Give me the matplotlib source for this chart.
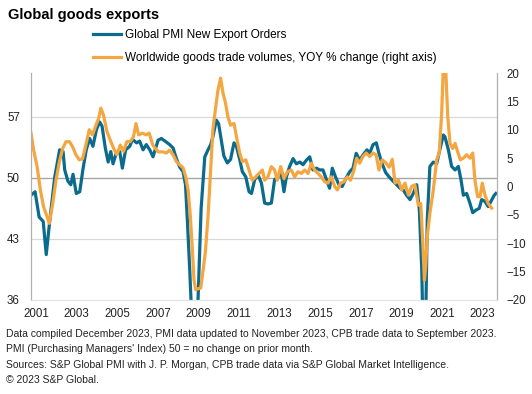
import matplotlib.pyplot as plt

# Global PMI New Export Orders (left axis), decimal years
pmi_t = [2001.0, 2001.2, 2001.4, 2001.6, 2001.75, 2001.92, 2002.17, 2002.41, 2002.58, 2002.66,
         2002.82, 2002.96, 2003.07, 2003.23, 2003.4, 2003.56, 2003.72, 2003.89, 2004.05, 2004.22,
         2004.38, 2004.5, 2004.66, 2004.8, 2004.93, 2005.04, 2005.2, 2005.37, 2005.5, 2005.66,
         2005.86, 2006.0, 2006.2, 2006.35, 2006.52, 2006.68, 2006.85, 2007.01, 2007.26, 2007.42,
         2007.66, 2007.83, 2008.0, 2008.16, 2008.33, 2008.49, 2008.61, 2008.7, 2008.82, 2008.9,
         2009.06, 2009.22, 2009.3, 2009.38, 2009.56, 2009.72, 2009.85, 2009.96, 2010.13, 2010.24,
         2010.38, 2010.5, 2010.67, 2010.83, 2011.0, 2011.12, 2011.28, 2011.41, 2011.58, 2011.74,
         2011.86, 2012.02, 2012.19, 2012.35, 2012.51, 2012.67, 2012.84, 2013.0, 2013.17, 2013.33,
         2013.46, 2013.58, 2013.74, 2013.91, 2014.07, 2014.24, 2014.4, 2014.56, 2014.73, 2014.89,
         2015.06, 2015.22, 2015.38, 2015.55, 2015.71, 2015.84, 2016.0, 2016.17, 2016.33, 2016.53,
         2016.7, 2016.86, 2017.02, 2017.19, 2017.35, 2017.55, 2017.68, 2017.85, 2018.01, 2018.14,
         2018.3, 2018.47, 2018.64, 2018.8, 2019.01, 2019.18, 2019.34, 2019.5, 2019.67, 2019.83,
         2020.0, 2020.13, 2020.25, 2020.33, 2020.44, 2020.52, 2020.65, 2020.82, 2020.98, 2021.14,
         2021.31, 2021.39, 2021.56, 2021.72, 2021.89, 2022.05, 2022.18, 2022.3, 2022.46, 2022.62,
         2022.76, 2022.92, 2023.08, 2023.2, 2023.36, 2023.52, 2023.66, 2023.82, 2023.9]
pmi_v = [48.0, 48.4, 45.5, 45.0, 41.2, 45.0, 50.1, 53.2, 53.0, 50.9,
         49.6, 49.2, 50.4, 48.2, 48.4, 51.0, 53.2, 54.5, 53.6, 55.5,
         56.4, 55.9, 53.4, 51.8, 53.0, 51.6, 52.8, 53.0, 51.1, 53.2,
         53.6, 54.4, 54.0, 54.2, 53.2, 53.8, 53.2, 52.4, 54.3, 54.5,
         54.1, 53.8, 53.4, 52.2, 51.2, 50.7, 49.2, 45.2, 39.4, 35.0,
         34.5, 35.5, 41.0, 46.5, 52.4, 53.2, 53.8, 54.7, 56.6, 56.2,
         54.2, 52.5, 51.7, 52.1, 54.0, 53.6, 52.1, 50.7, 50.1, 48.4,
         48.2, 49.8, 50.3, 49.4, 47.1, 47.0, 47.1, 49.8, 50.1, 50.5,
         48.4, 50.1, 51.3, 52.2, 51.6, 51.8, 51.5, 52.0, 52.4, 50.9,
         51.1, 50.9, 50.9, 49.8, 48.8, 51.1, 50.1, 49.2, 49.0, 50.0,
         50.7, 51.1, 52.8, 52.0, 52.6, 53.2, 52.8, 53.8, 54.0, 52.8,
         51.6, 50.6, 50.1, 49.7, 49.2, 48.8, 48.6, 48.0, 47.5, 48.2,
         49.2, 46.3, 39.4, 30.0, 33.0, 45.2, 51.3, 51.8, 51.6, 53.2,
         54.9, 54.7, 53.2, 51.3, 50.9, 51.3, 49.8, 48.0, 48.2, 47.1,
         46.0, 46.3, 46.5, 47.5, 47.3, 46.7, 47.3, 48.0, 48.2]

# Worldwide goods trade volumes, YOY % change (right axis)
trade_t = [2001.0, 2001.13, 2001.3, 2001.46, 2001.62, 2001.79, 2001.9, 2002.07, 2002.23, 2002.4,
           2002.56, 2002.72, 2002.89, 2003.05, 2003.21, 2003.38, 2003.54, 2003.7, 2003.87, 2004.03,
           2004.2, 2004.33, 2004.44, 2004.57, 2004.74, 2004.9, 2005.07, 2005.23, 2005.4, 2005.56,
           2005.72, 2005.89, 2006.05, 2006.17, 2006.3, 2006.5, 2006.66, 2006.82, 2007.0, 2007.26,
           2007.5, 2007.66, 2007.83, 2008.0, 2008.16, 2008.33, 2008.49, 2008.62, 2008.74, 2008.85,
           2008.95, 2009.03, 2009.11, 2009.23, 2009.36, 2009.48, 2009.59, 2009.72, 2009.85, 2009.96,
           2010.08, 2010.21, 2010.34, 2010.46, 2010.57, 2010.7, 2010.83, 2011.0, 2011.12, 2011.28,
           2011.41, 2011.58, 2011.74, 2011.9, 2012.07, 2012.23, 2012.4, 2012.51, 2012.67, 2012.84,
           2013.0, 2013.13, 2013.3, 2013.46, 2013.63, 2013.82, 2013.99, 2014.15, 2014.32, 2014.48,
           2014.65, 2014.81, 2014.97, 2015.14, 2015.3, 2015.46, 2015.63, 2015.79, 2015.96, 2016.09,
           2016.25, 2016.42, 2016.58, 2016.74, 2016.91, 2017.04, 2017.19, 2017.35, 2017.51, 2017.68,
           2017.84, 2018.0, 2018.14, 2018.3, 2018.47, 2018.64, 2018.8, 2018.93, 2019.1, 2019.26,
           2019.42, 2019.59, 2019.75, 2019.91, 2020.08, 2020.2, 2020.3, 2020.38, 2020.44, 2020.52,
           2020.65, 2020.82, 2020.98, 2021.11, 2021.23, 2021.31, 2021.43, 2021.53, 2021.64, 2021.77,
           2021.89, 2022.02, 2022.15, 2022.3, 2022.46, 2022.62, 2022.76, 2022.87, 2023.0, 2023.12,
           2023.23, 2023.36, 2023.52, 2023.69]
trade_v = [9.4, 6.4, 3.5, -0.6, -3.6, -5.3, -6.5, -3.0, 1.1, 4.4,
           6.7, 7.9, 7.9, 7.0, 5.6, 4.7, 4.9, 7.3, 10.0, 9.1,
           10.8, 12.0, 13.8, 12.6, 9.7, 8.2, 6.7, 5.6, 7.3, 6.2,
           7.9, 7.9, 8.8, 11.1, 9.1, 9.4, 9.1, 9.4, 7.3, 6.1,
           6.1, 5.9, 6.4, 5.6, 4.4, 3.8, 3.3, 1.7, -0.6, -5.3,
           -11.2, -16.5, -18.2, -18.0, -17.9, -14.7, -11.5, -5.3, 2.9, 10.0,
           13.5, 17.0, 19.1, 16.4, 14.9, 12.3, 10.8, 11.1, 8.8, 5.9,
           4.4, 4.7, 2.9, 1.1, 1.7, 2.3, 2.9, 1.1, 1.7, 3.5,
           2.9, 1.1, 3.5, 1.4, 2.6, 2.9, 1.7, 2.6, 2.3, 2.9,
           2.3, 4.1, 2.9, 2.3, 1.7, 0.85, 0.6, 1.7, 0.0, -0.6,
           0.6, 0.85, 1.7, 1.1, 2.9, 5.0, 4.1, 5.3, 5.9, 5.3,
           5.9, 5.6, 2.9, 4.7, 4.2, 3.4, 4.8, 0.6, 1.1, -0.6,
           0.6, -1.5, 0.0, 0.3, -3.3, -3.0, -10.0, -16.5, -14.1, -8.8,
           -4.7, -0.6, 4.7, 5.9, 12.9, 21.0, 20.5, 12.3, 7.6, 6.7,
           7.6, 6.1, 4.7, 5.0, 5.6, 5.0, 5.9, 1.1, -1.8, -1.8,
           0.6, -1.5, -3.0, -3.8]

years = [2001, 2003, 2005, 2007, 2009, 2011, 2013, 2015, 2017, 2019, 2021, 2023]
left_ticks = [36, 43, 50, 57]
right_ticks = [-20, -15, -10, -5, 0, 5, 10, 15, 20]

blue = '#0b6b8c'
orange = '#f4a640'

plt.rcParams['font.family'] = ['Liberation Sans', 'DejaVu Sans']

fig = plt.figure(figsize=(5.32, 3.94), dpi=100)
ax = fig.add_axes([0.0583, 0.2386, 0.8757, 0.5761])
ax2 = ax.twinx()

ax.plot(pmi_t, pmi_v, color=blue, lw=2.3, solid_joinstyle='round')
ax2.plot(trade_t, trade_v, color=orange, lw=2.3, solid_joinstyle='round')

ax.set_xlim(2001.0, 2023.95)
ax.set_ylim(36, 62)
ax2.set_ylim(-20, 20)

ax.set_yticks(left_ticks)
ax2.set_yticks(right_ticks)
ax.set_xticks([y + 0.25 for y in years])
ax.set_xticklabels([str(y) for y in years])

for y in [43, 57]:
    ax.axhline(y, color='#d9d9d9', lw=0.9, zorder=0)
ax.axhline(50, color='#a6a6a6', lw=1.0, zorder=0)

for a in (ax, ax2):
    a.spines['top'].set_visible(False)
    a.spines['bottom'].set_color('#e3e3e3')
    a.spines['left'].set_color('#b0b0b0')
    a.spines['right'].set_color('#b0b0b0')
    a.tick_params(length=0, labelsize=8.3, colors='#222222')
ax.tick_params(axis='y', pad=8)
ax.tick_params(axis='x', pad=6)
ax2.tick_params(axis='y', pad=7)

fig.text(0.015, 0.963, 'Global goods exports', fontsize=10.5, fontweight='bold', va='center')

h1, = ax.plot([], [], color=blue, lw=2.3)
h2, = ax.plot([], [], color=orange, lw=2.3)
fig.legend([h1, h2], ['Global PMI New Export Orders',
                      'Worldwide goods trade volumes, YOY % change (right axis)'],
           loc='upper left', bbox_to_anchor=(0.174, 0.926), frameon=False,
           fontsize=8.5, handlelength=2.4, handletextpad=0.35, labelspacing=0.9,
           borderaxespad=0, borderpad=0)

notes = ['Data compiled December 2023, PMI data updated to November 2023, CPB trade data to September 2023.',
         "PMI (Purchasing Managers' Index) 50 = no change on prior month.",
         'Sources: S&P Global PMI with J. P. Morgan, CPB trade data via S&P Global Market Intelligence.',
         '\u00a9 2023 S&P Global.']
for i, s in enumerate(notes):
    fig.text(0.011, 1 - (334 + 15.4 * i) / 394, s, fontsize=7.45, va='center', color='#222222')

fig.savefig('out.png', dpi=100)
